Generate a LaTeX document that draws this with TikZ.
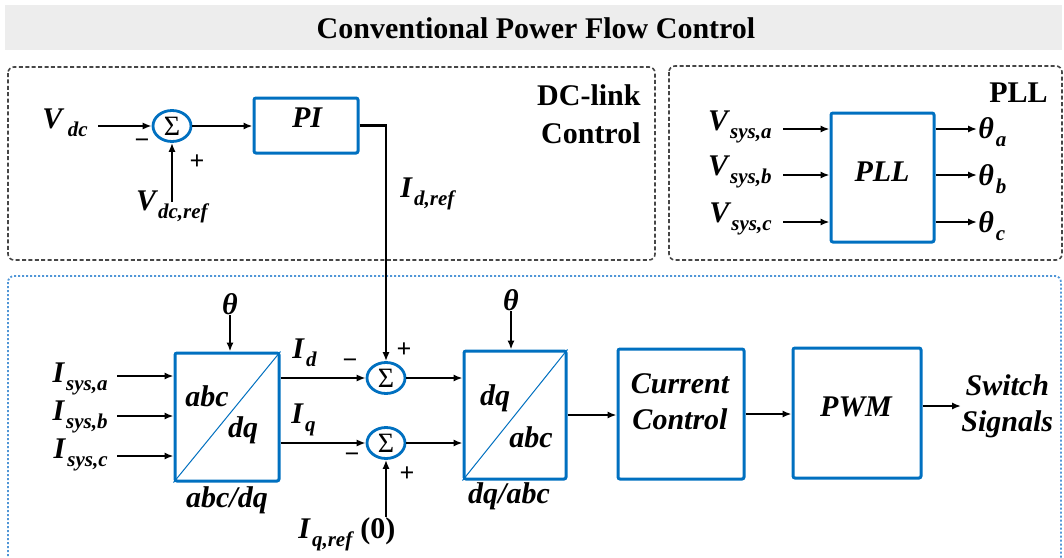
\documentclass[tikz,border=0pt]{standalone}
\usepackage{fontspec}
\setmainfont{Liberation Serif}
\usetikzlibrary{arrows.meta,shapes.geometric}
\definecolor{boxblue}{RGB}{0,112,192}
\definecolor{frameblue}{RGB}{80,150,215}
\definecolor{framegray}{RGB}{70,70,70}
\newcommand{\sublab}[2]{{\fontsize{15}{17}\selectfont\bfseries\itshape #1}\kern1pt\raisebox{-4pt}{\fontsize{10.5}{12}\selectfont\bfseries\itshape #2}}
\begin{document}
\begin{tikzpicture}[x=0.5pt,y=-0.5pt,
 bluebox/.style={draw=boxblue,line width=1.5pt,rounded corners=1pt,fill=white,inner sep=0pt},
 sumc/.style={ellipse,draw=boxblue,line width=1.4pt,minimum width=19pt,minimum height=15.5pt,inner sep=0pt,fill=white,font=\fontsize{14}{14}\selectfont},
 arr/.style={-{Latex[length=4.5pt,width=3.6pt]},line width=1.1pt},
 lbl/.style={inner sep=0pt},
 btxt/.style={inner sep=0pt,font=\fontsize{15}{18}\selectfont\bfseries\itshape,align=center},
 hdr/.style={inner sep=0pt,font=\fontsize{15}{19}\selectfont\bfseries,align=right},
 sgn/.style={inner sep=0pt,font=\fontsize{13}{13}\selectfont\bfseries},
 dashframe/.style={draw=framegray,line width=0.8pt,dash pattern=on 2pt off 1.2pt,rounded corners=3pt},
 dotframe/.style={draw=frameblue,line width=0.9pt,dash pattern=on 1pt off 1pt,rounded corners=3pt},
 diag/.style={draw=boxblue,line width=0.5pt}]
\useasboundingbox (0,0) rectangle (1064,557);
\clip (0,0) rectangle (1064,557);
% title
\fill[gray!14] (5,5) rectangle (1062,50);
\node[hdr] (title) at (536,28) {Conventional Power Flow Control};
% frames
\draw[dashframe] (8,67) rectangle (655,260);
\draw[dashframe] (669,66) rectangle (1062,260);
\draw[dotframe] (8,276) rectangle (1061,620);
\node[hdr,anchor=north east] (dclink) at (641,84) {DC-link\\Control};
\node[hdr,anchor=north east] (pllhdr) at (1048,82) {PLL};
% DC-link loop
\node[sumc] (s0) at (172,126) {Σ};
\node[bluebox,minimum width=52pt,minimum height=27.5pt] (pi) at (306,125.5) {};
\node[btxt] (pitxt) at (307,118) {PI};
\node[lbl,anchor=base east] (vdc) at (88,128) {\sublab{V}{\,dc}};
\node[lbl,anchor=base east] (vdcref) at (208,210) {\sublab{V}{dc,ref}};
\coordinate (cvdc) at (98,126);
\coordinate (cvref) at (172,202);
\draw[arr] (cvdc) -- (s0.west);
\draw[arr] (cvref) -- (s0.south);
\draw[arr] (s0.east) -- (s0.east -| pi.west);
\node[sgn] (m0) at (142,144) {−};
\node[sgn] (p0) at (197,162) {+};
\node[lbl,anchor=base west] (idref) at (400,197) {\sublab{I}{d,ref}};
% PLL
\node[bluebox,minimum width=51.5pt,minimum height=64.5pt] (pll) at (882.5,177.5) {};
\node[btxt] (plltxt) at (882,172) {PLL};
\node[lbl,anchor=base east] (vsa) at (772,130) {\sublab{V}{sys,a}};
\node[lbl,anchor=base east] (vsb) at (772,175) {\sublab{V}{sys,b}};
\node[lbl,anchor=base east] (vsc) at (772,222) {\sublab{V}{sys,c}};
\coordinate (cva) at (783,129);
\coordinate (cvb) at (783,175);
\coordinate (cvc) at (783,222);
\draw[arr] (cva) -- (cva -| pll.west);
\draw[arr] (cvb) -- (cvb -| pll.west);
\draw[arr] (cvc) -- (cvc -| pll.west);
\node[lbl,anchor=base west] (tha) at (978,138) {\sublab{θ}{a}};
\node[lbl,anchor=base west] (thb) at (978,185) {\sublab{θ}{b}};
\node[lbl,anchor=base west] (thc) at (978,232) {\sublab{θ}{c}};
\coordinate (cta) at (977,129);
\coordinate (ctb) at (977,175);
\coordinate (ctc) at (977,222);
\draw[arr] (cta -| pll.east) -- (cta);
\draw[arr] (ctb -| pll.east) -- (ctb);
\draw[arr] (ctc -| pll.east) -- (ctc);
% abc/dq
\node[bluebox,minimum width=52pt,minimum height=64pt] (abc) at (227,417) {};
\draw[diag] (abc.south west) -- (abc.north east);
\node[btxt] (abct1) at (207,396) {abc};
\node[btxt] (abct2) at (243,430) {dq};
\node[btxt] (abccap) at (227,500) {abc/dq};
\node[btxt] (th1) at (230,304) {θ};
\draw[arr] (th1.south) -- (th1.south |- abc.north);
\node[lbl,anchor=base east] (isa) at (108,382) {\sublab{I}{sys,a}};
\node[lbl,anchor=base east] (isb) at (108,420) {\sublab{I}{sys,b}};
\node[lbl,anchor=base east] (isc) at (108,458) {\sublab{I}{sys,c}};
\coordinate (cia) at (117,376);
\coordinate (cib) at (117,416);
\coordinate (cic) at (117,456);
\draw[arr] (cia) -- (cia -| abc.west);
\draw[arr] (cib) -- (cib -| abc.west);
\draw[arr] (cic) -- (cic -| abc.west);
% sums
\node[sumc] (s1) at (386,378) {Σ};
\node[sumc] (s2) at (386,443) {Σ};
\draw[arr] (pi.east) -| (s1.north);
\draw[arr] (abc.east |- s1) -- (s1.west);
\draw[arr] (abc.east |- s2) -- (s2.west);
\node[lbl,anchor=base west] (id) at (292,358) {\sublab{I}{d}};
\node[lbl,anchor=base west] (iq) at (291,423) {\sublab{I}{q}};
\node[sgn] (m1) at (350,364) {−};
\node[sgn] (p1) at (404,350) {+};
\node[sgn] (m2) at (352,458) {−};
\node[sgn] (p2) at (407,474) {+};
\node[lbl,anchor=base west] (iqref) at (298,538) {\sublab{I}{q,ref}\kern4pt{\fontsize{15}{17}\selectfont\bfseries (0)}};
\coordinate (ciq) at (386,517);
\draw[arr] (ciq) -- (s2.south);
% dq/abc
\node[bluebox,minimum width=51pt,minimum height=64pt] (dq) at (515,415) {};
\draw[diag] (dq.south west) -- (dq.north east);
\node[btxt] (dqt1) at (495,398) {dq};
\node[btxt] (dqt2) at (531,437) {abc};
\node[btxt] (dqcap) at (509,496) {dq/abc};
\node[btxt] (th2) at (511,300) {θ};
\draw[arr] (th2.south) -- (th2.south |- dq.north);
\draw[arr] (s1.east) -- (s1.east -| dq.west);
\draw[arr] (s2.east) -- (s2.east -| dq.west);
% current control, PWM
\node[bluebox,minimum width=63pt,minimum height=65pt] (cc) at (681,414) {};
\node[btxt] (cctxt) at (680,402) {Current\\Control};
\node[bluebox,minimum width=64pt,minimum height=65pt] (pwm) at (857,413) {};
\node[btxt] (pwmtxt) at (856,407) {PWM};
\node[btxt,anchor=west] (sw) at (961,406) {Switch\\Signals};
\draw[arr] (dq.east) -- (dq.east -| cc.west);
\draw[arr] (cc.east) -- (cc.east -| pwm.west);
\draw[arr] (pwm.east |- sw.west) -- (sw.west);
\end{tikzpicture}
\end{document}
